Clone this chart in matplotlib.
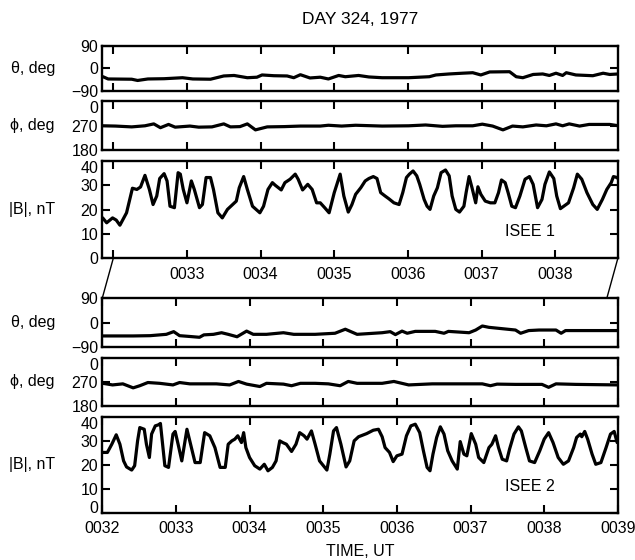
import matplotlib
matplotlib.use("Agg")
import numpy as np
import matplotlib.pyplot as plt
from matplotlib.patches import ConnectionPatch

plt.rcParams['font.family'] = ['Liberation Sans', 'DejaVu Sans']
plt.rcParams['axes.unicode_minus'] = True

# minutes after 0000 UT
minutes = [32, 33, 34, 35, 36, 37, 38, 39]
minute_labels = ['0032', '0033', '0034', '0035', '0036', '0037', '0038', '0039']

# ---- ISEE 1 ----
t_th1 = [31.86, 31.93, 32.25, 32.33, 32.47, 32.69, 32.94, 33.08, 33.32, 33.50, 33.64, 33.82,
         33.95, 34.02, 34.18, 34.36, 34.45, 34.54, 34.67, 34.81, 34.92, 35.06, 35.15, 35.33,
         35.47, 35.65, 36.01, 36.29, 36.38, 36.56, 36.74, 36.88, 36.99, 37.11, 37.38, 37.47,
         37.56, 37.70, 37.83, 37.92, 38.01, 38.10, 38.15, 38.28, 38.51, 38.65, 38.74, 38.86]
th1 = [-34, -43, -44, -49, -43, -42, -38, -43, -44, -31, -29, -38,
       -36, -27, -30, -31, -38, -26, -39, -36, -43, -29, -34, -29,
       -35, -38, -38, -34, -27, -23, -20, -18, -27, -15, -14, -34,
       -38, -25, -23, -29, -20, -29, -18, -27, -30, -20, -25, -23]

t_ph1 = [31.86, 32.03, 32.25, 32.43, 32.55, 32.64, 32.75, 32.84, 33.04, 33.16, 33.34, 33.50,
         33.59, 33.72, 33.82, 33.93, 34.09, 34.32, 34.54, 34.81, 34.92, 35.10, 35.29, 35.65,
         36.01, 36.24, 36.47, 36.65, 36.88, 37.01, 37.15, 37.29, 37.42, 37.56, 37.74, 37.88,
         38.01, 38.10, 38.19, 38.33, 38.46, 38.74, 38.86]
ph1 = [269, 268, 265, 269, 276, 262, 274, 264, 268, 264, 265, 276,
       265, 266, 276, 254, 265, 266, 268, 268, 271, 268, 271, 268,
       269, 272, 267, 269, 269, 275, 268, 254, 268, 265, 272, 269,
       276, 269, 276, 268, 274, 274, 269]

t_b1 = [31.856, 31.91, 31.99, 32.04, 32.09, 32.18, 32.26, 32.32, 32.37, 32.43, 32.49, 32.54,
        32.59, 32.63, 32.69, 32.73, 32.77, 32.83, 32.88, 32.91, 32.95, 33.00, 33.06, 33.10,
        33.17, 33.21, 33.26, 33.32, 33.36, 33.42, 33.48, 33.55, 33.62, 33.67, 33.71, 33.77,
        33.82, 33.89, 33.99, 34.04, 34.10, 34.16, 34.20, 34.28, 34.33, 34.40, 34.47, 34.51,
        34.57, 34.64, 34.70, 34.76, 34.81, 34.87, 34.93, 35.00, 35.08, 35.13, 35.19, 35.24,
        35.29, 35.36, 35.42, 35.47, 35.53, 35.58, 35.63, 35.69, 35.74, 35.81, 35.88, 35.93,
        35.98, 36.02, 36.07, 36.12, 36.16, 36.22, 36.26, 36.30, 36.35, 36.40, 36.45, 36.51,
        36.56, 36.60, 36.65, 36.70, 36.76, 36.79, 36.83, 36.87, 36.92, 36.95, 36.99, 37.05,
        37.12, 37.18, 37.23, 37.27, 37.32, 37.36, 37.41, 37.46, 37.52, 37.59, 37.65, 37.70,
        37.76, 37.82, 37.86, 37.92, 37.98, 38.02, 38.07, 38.13, 38.18, 38.25, 38.30, 38.36,
        38.43, 38.51, 38.57, 38.64, 38.70, 38.76, 38.79, 38.84, 38.85]
b1 = [16.6, 14.6, 16.6, 15.7, 13.6, 18.7, 28.8, 28.3, 29.3, 34.1, 28.3, 22.1,
      25.6, 32.8, 34.8, 31.8, 21.4, 20.8, 35.2, 34.6, 28.3, 22.8, 31.8, 28.3,
      20.8, 22.1, 33.2, 33.2, 28.3, 18.7, 16.6, 20.1, 22.1, 23.5, 29.0, 33.6,
      28.3, 21.4, 18.7, 21.4, 28.3, 31.1, 30.0, 28.1, 31.1, 32.5, 34.6, 32.5,
      28.1, 30.4, 28.3, 22.8, 22.8, 20.8, 18.7, 27.0, 34.6, 25.6, 19.0, 22.1,
      26.3, 29.0, 31.8, 32.8, 33.6, 32.8, 27.0, 25.6, 24.5, 22.8, 22.1, 27.0,
      33.2, 34.6, 35.9, 33.9, 30.4, 24.2, 21.4, 20.1, 25.6, 29.0, 35.2, 36.3,
      33.9, 25.6, 20.1, 19.0, 21.4, 27.0, 33.6, 29.0, 22.8, 29.4, 26.3, 23.5,
      22.8, 22.8, 27.0, 32.2, 31.1, 27.0, 21.4, 20.8, 25.6, 32.5, 33.6, 30.4,
      20.8, 24.2, 30.4, 35.5, 32.8, 25.6, 20.4, 21.7, 22.8, 29.0, 34.6, 32.5,
      27.0, 22.1, 20.1, 24.2, 28.3, 31.1, 33.6, 33.2, 32.8]

# ---- ISEE 2 ----
t_th2 = [32.01, 32.42, 32.65, 32.87, 32.97, 33.05, 33.19, 33.32, 33.38, 33.51, 33.62, 33.71,
         33.83, 33.96, 34.05, 34.23, 34.46, 34.60, 34.89, 35.16, 35.30, 35.46, 35.80, 35.91,
         35.98, 36.07, 36.14, 36.25, 36.52, 36.64, 36.70, 36.98, 37.07, 37.16, 37.25, 37.43,
         37.61, 37.68, 37.79, 37.93, 38.16, 38.23, 38.29, 39.0]
th2 = [-50, -50, -49, -44, -34, -49, -52, -55, -46, -44, -38, -44,
       -53, -32, -44, -44, -38, -44, -44, -40, -25, -44, -38, -34,
       -45, -32, -40, -33, -33, -40, -33, -38, -28, -13, -18, -23,
       -28, -40, -30, -28, -28, -40, -30, -30]

t_ph2 = [32.01, 32.14, 32.28, 32.42, 32.51, 32.62, 32.78, 32.96, 33.05, 33.19, 33.55, 33.73,
         33.85, 33.96, 34.14, 34.23, 34.46, 34.57, 34.69, 34.89, 35.07, 35.23, 35.34, 35.46,
         35.80, 35.96, 36.16, 36.48, 37.16, 37.27, 37.36, 37.61, 37.97, 38.06, 38.16, 38.43, 39.0]
ph2 = [264, 258, 262, 247, 255, 267, 264, 258, 267, 262, 262, 258,
       271, 261, 252, 264, 261, 255, 264, 264, 262, 255, 271, 264,
       264, 271, 258, 262, 262, 255, 261, 260, 260, 249, 262, 260, 258]

t_b2 = [32.01, 32.07, 32.13, 32.19, 32.24, 32.29, 32.33, 32.40, 32.44, 32.48, 32.51, 32.57,
        32.60, 32.64, 32.67, 32.72, 32.76, 32.79, 32.82, 32.85, 32.90, 32.96, 32.99, 33.03,
        33.08, 33.15, 33.20, 33.26, 33.33, 33.39, 33.46, 33.53, 33.60, 33.67, 33.71, 33.76,
        33.80, 33.84, 33.89, 33.92, 33.95, 34.00, 34.07, 34.14, 34.20, 34.25, 34.31, 34.36,
        34.41, 34.45, 34.50, 34.57, 34.63, 34.68, 34.74, 34.78, 34.84, 34.89, 34.95, 35.05,
        35.09, 35.14, 35.18, 35.24, 35.31, 35.36, 35.42, 35.48, 35.55, 35.59, 35.68, 35.75,
        35.80, 35.84, 35.90, 35.95, 36.00, 36.07, 36.13, 36.19, 36.25, 36.31, 36.36, 36.41,
        36.45, 36.49, 36.54, 36.59, 36.64, 36.69, 36.75, 36.82, 36.86, 36.91, 36.95, 37.01,
        37.07, 37.11, 37.18, 37.25, 37.29, 37.34, 37.38, 37.43, 37.49, 37.53, 37.59, 37.65,
        37.69, 37.75, 37.80, 37.87, 37.94, 38.00, 38.06, 38.12, 38.19, 38.26, 38.33, 38.40,
        38.44, 38.49, 38.51, 38.55, 38.59, 38.65, 38.70, 38.77, 38.84, 38.90, 38.95, 38.99]
b2 = [25.2, 25.2, 28.6, 32.5, 28.6, 21.7, 19.2, 17.9, 19.7, 30.0, 35.5, 34.8,
      28.6, 23.1, 32.8, 36.2, 36.6, 37.2, 28.6, 19.7, 19.0, 32.8, 33.9, 28.6,
      21.7, 34.8, 28.6, 21.0, 21.0, 33.4, 32.1, 27.2, 19.0, 19.0, 28.6, 30.0,
      30.7, 32.1, 29.3, 33.4, 27.2, 23.1, 19.7, 18.3, 20.3, 17.6, 19.0, 21.7,
      30.0, 29.3, 28.6, 25.6, 28.6, 33.4, 32.1, 30.7, 34.1, 28.6, 21.7, 17.9,
      24.5, 34.1, 35.5, 28.6, 19.2, 21.7, 30.0, 31.7, 32.5, 33.0, 34.4, 34.8,
      31.7, 27.2, 25.2, 21.4, 23.8, 24.5, 32.1, 36.2, 36.9, 33.4, 25.9, 19.0,
      17.6, 24.5, 31.4, 35.8, 32.8, 25.9, 21.7, 18.3, 29.7, 24.5, 23.8, 33.0,
      28.6, 23.1, 21.0, 27.2, 28.6, 32.1, 27.2, 22.4, 21.7, 26.6, 32.8, 35.8,
      34.1, 27.2, 21.7, 21.0, 25.9, 30.7, 33.4, 29.3, 23.1, 20.3, 21.7, 27.2,
      31.4, 32.8, 31.7, 33.9, 30.7, 24.5, 20.3, 21.0, 27.2, 32.8, 33.9, 29.3]

LW = 2.3
FS = 11.5

fig = plt.figure(figsize=(6.35, 5.6), dpi=100)
left, width = 0.161, 0.812
rects = [
    (0.838, 0.0804), (0.7321, 0.0875), (0.5388, 0.1737),
    (0.3809, 0.0864), (0.2755, 0.0857), (0.0834, 0.1725),
]
axes = [fig.add_axes([left, b, width, h]) for b, h in rects]
ax_th1, ax_ph1, ax_b1, ax_th2, ax_ph2, ax_b2 = axes

line_kw = dict(color='black', lw=LW, solid_joinstyle='round', solid_capstyle='round')
ax_th1.plot(t_th1, th1, **line_kw)
ax_ph1.plot(t_ph1, ph1, **line_kw)
ax_b1.plot(t_b1, b1, **line_kw)
ax_th2.plot(t_th2, th2, **line_kw)
ax_ph2.plot(t_ph2, ph2, **line_kw)
ax_b2.plot(t_b2, b2, **line_kw)

for ax in axes:
    for s in ax.spines.values():
        s.set_linewidth(1.7)
    ax.tick_params(direction='in', top=True, right=True, length=6, width=1.5,
                   labelsize=FS, pad=3)
    ax.set_xticks(minutes)

for ax in axes[:3]:
    ax.set_xlim(31.85, 38.85)
for ax in axes[3:]:
    ax.set_xlim(32, 39)

for ax in (ax_th1, ax_th2):
    ax.set_ylim(-90, 90)
    ax.set_yticks([-90, 0, 90])
    ax.set_yticklabels(['\u221290', '0', '90'])
for ax in (ax_ph1, ax_ph2):
    ax.set_ylim(180, 360)
    ax.set_yticks([180, 270, 360])
    ax.set_yticklabels(['180', '270', '0'])
for ax in (ax_b1, ax_b2):
    ax.set_ylim(0, 40)
    ax.set_yticks([0, 10, 20, 30, 40])

# top labels of the phi and |B| panels hang below the upper frame
for ax in (ax_ph1, ax_b1, ax_ph2, ax_b2):
    ax.get_yticklabels()[-1].set_va('top')
# keep the bottom "0" clear of the time labels
ax_b2.get_yticklabels()[0].set_va('baseline')

for ax in (ax_th1, ax_ph1, ax_th2, ax_ph2):
    ax.set_xticklabels([])
ax_b1.set_xticklabels([''] + minute_labels[1:7] + [''])
ax_b1.tick_params(axis='x', pad=6)
ax_b2.set_xticklabels(minute_labels)
ax_b2.tick_params(axis='x', pad=5.5)

ax_b1.text(0.83, 0.28, 'ISEE 1', transform=ax_b1.transAxes, ha='center',
           va='center', fontsize=FS)
ax_b2.text(0.83, 0.28, 'ISEE 2', transform=ax_b2.transAxes, ha='center',
           va='center', fontsize=FS)

# y labels, horizontal to the left
lab_x = 55 / 635
for ax, lab in [(ax_th1, '\u03b8, deg'), (ax_ph1, '\u03d5, deg'), (ax_b1, '|B|, nT'),
                (ax_th2, '\u03b8, deg'), (ax_ph2, '\u03d5, deg'), (ax_b2, '|B|, nT')]:
    pos = ax.get_position()
    yc = pos.y0 + pos.height / 2
    fig.text(lab_x, yc, lab, ha='right', va='center', fontsize=FS)

fig.text(360 / 635, 1 - 20 / 560, 'DAY 324, 1977', ha='center', va='center', fontsize=12.5)
fig.text(360 / 635, 1 - 552 / 560, 'TIME, UT', ha='center', va='center', fontsize=FS)

# expansion lines between the two spacecraft
for t in (32.0, 38.85):
    con = ConnectionPatch(xyA=(t, 0), coordsA=ax_b1.transData,
                          xyB=(t, 90), coordsB=ax_th2.transData,
                          color='black', lw=1.0)
    fig.add_artist(con)

fig.savefig('out.png', dpi=100)
